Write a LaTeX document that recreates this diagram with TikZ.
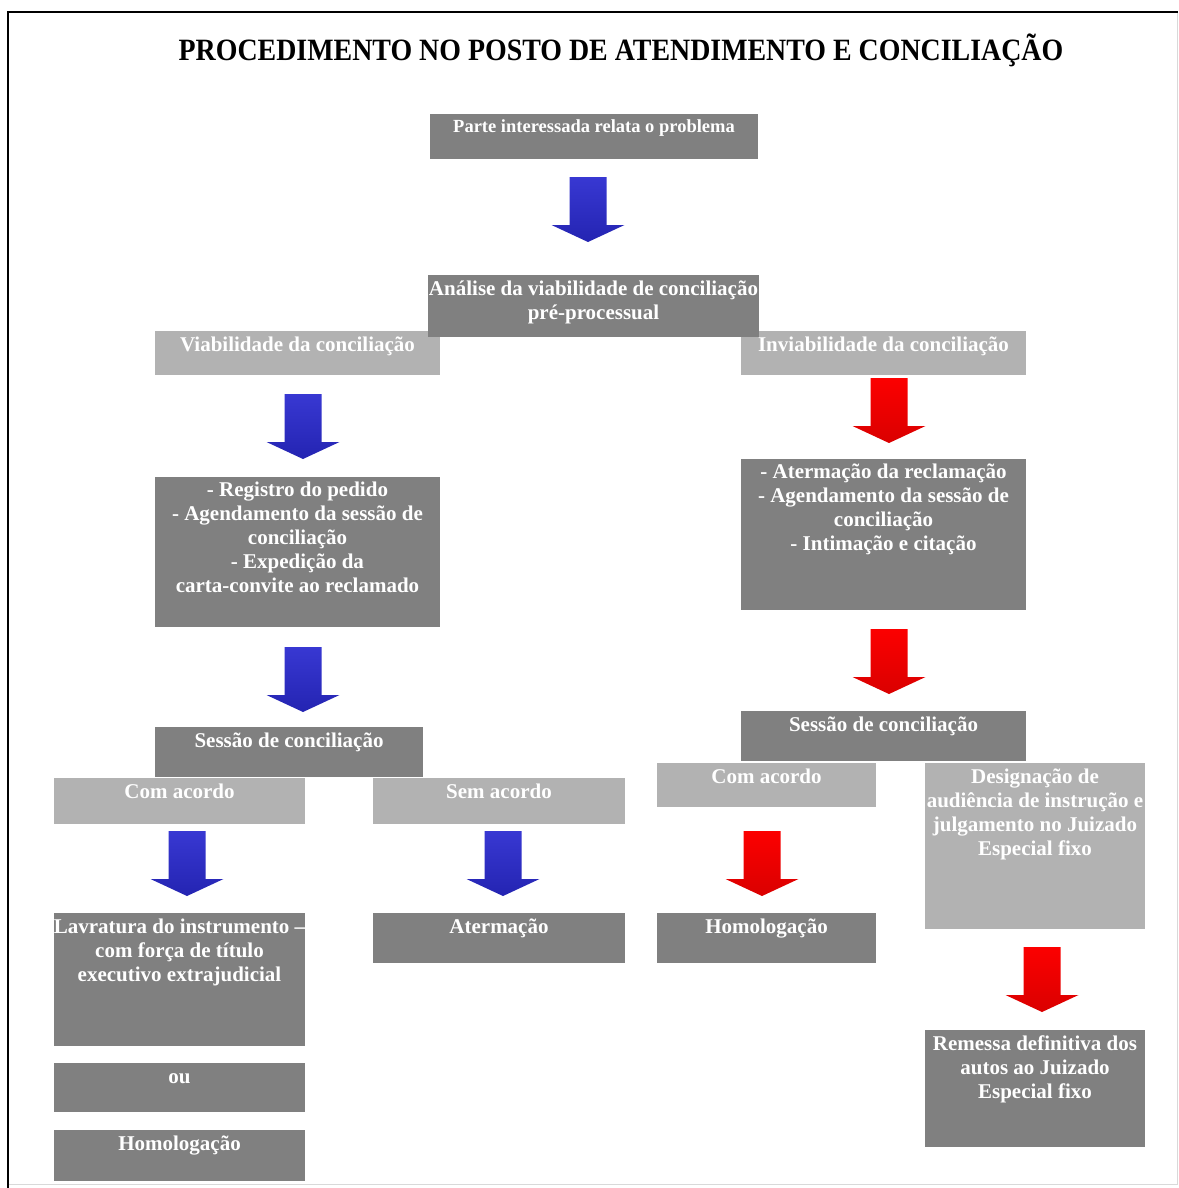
\documentclass[tikz,border=0pt]{standalone}
\usepackage{fontspec}
\setmainfont{Liberation Serif}

\definecolor{dgray}{RGB}{128,128,128}
\definecolor{lgray}{RGB}{178,178,178}
\definecolor{ablue}{RGB}{56,56,210}
\definecolor{ablueD}{RGB}{36,36,178}
\definecolor{ared}{RGB}{252,0,0}
\definecolor{aredD}{RGB}{218,0,0}

\tikzset{
  box/.style={inner sep=0pt, outer sep=0pt, anchor=north west},
  dbox/.style={box, fill=dgray},
  lbox/.style={box, fill=lgray},
  btext/.style={text=white, font=\bfseries\fontsize{21}{24}\selectfont, align=center, inner sep=0pt, anchor=north},
  barrow/.style={top color=ablue, bottom color=ablueD},
  rarrow/.style={top color=ared, bottom color=aredD},
  titletext/.style={anchor=base, inner sep=0pt, font=\bfseries\fontsize{31}{36}\selectfont},
}
\newcommand\st{\rule{0pt}{15pt}}
% #1 text options, #2 name, #3 style, #4 x, #5 y, #6 w, #7 h, #8 text
\newcommand\mybox[8][]{%
  \node[#3, minimum width=#6pt, minimum height=#7pt] (#2) at (#4,#5) {};
  \node[btext, #1] (#2t) at ([yshift=-5pt]#2.north) {\st #8};
}
% x, ytop, style
\newcommand\blockarr[3]{%
  \path[#3] (#1-18.5,#2) -- (#1+18.5,#2) -- (#1+18.5,#2+48) -- (#1+36.5,#2+48)
    -- (#1,#2+65) -- (#1-36.5,#2+48) -- (#1-18.5,#2+48) -- cycle;
}

\begin{document}
\begin{tikzpicture}[x=1pt, y=-1pt]
\useasboundingbox (0,0) rectangle (1178,1188);
\fill[white] (0,0) rectangle (1178,1188);

% frame
\draw[black!15, line width=1pt] (8,1184) -- (1177,1184) -- (1177,12.5);
\draw[black, line width=2pt] (8,1188) -- (8,12.5) -- (1178,12.5);

% title
\node[titletext] (title) at (621,61) {\scalebox{0.9}[1]{PROCEDIMENTO NO POSTO DE ATENDIMENTO E CONCILIAÇÃO}};

% boxes
\mybox[yshift=2pt, font=\bfseries\fontsize{18.5}{22}\selectfont]{p1}{dbox}{430}{114}{328}{45}{Parte interessada relata o problema}
\mybox{vi}{lbox}{155}{331}{285}{44}{Viabilidade da conciliação}
\mybox{inv}{lbox}{741}{331}{285}{44}{Inviabilidade da conciliação}
\mybox{an}{dbox}{428}{275}{331}{62}{Análise da viabilidade de conciliação\\pré-processual}

\mybox[yshift=1pt]{r1}{dbox}{155}{477}{285}{150}{- Registro do pedido\\- Agendamento da sessão de\\conciliação\\- Expedição da\\carta-convite ao reclamado}
\mybox[yshift=1pt]{r2}{dbox}{741}{459}{285}{151}{- Atermação da reclamação\\- Agendamento da sessão de\\conciliação\\- Intimação e citação}

\mybox{s1}{dbox}{155}{727}{268}{50}{Sessão de conciliação}
\mybox{s2}{dbox}{741}{711}{285}{50}{Sessão de conciliação}

\mybox{c1}{lbox}{54}{778}{251}{46}{Com acordo}
\mybox{sa}{lbox}{373}{778}{252}{46}{Sem acordo}
\mybox{c2}{lbox}{657}{763}{219}{44}{Com acordo}
\mybox{de}{lbox}{925}{763}{220}{166}{Designação de\\audiência de instrução e\\julgamento no Juizado\\Especial fixo}

\mybox{la}{dbox}{54}{913}{251}{133}{Lavratura do instrumento –\\com força de título\\executivo extrajudicial}
\mybox{ou}{dbox}{54}{1063}{251}{49}{ou}
\mybox{h1}{dbox}{54}{1130}{251}{51}{Homologação}
\mybox{at}{dbox}{373}{913}{252}{50}{Atermação}
\mybox{h2}{dbox}{657}{913}{219}{50}{Homologação}
\mybox{re}{dbox}{925}{1030}{220}{117}{Remessa definitiva dos\\autos ao Juizado\\Especial fixo}

% block arrows
\blockarr{588}{177}{barrow}
\blockarr{303}{394}{barrow}
\blockarr{889}{378}{rarrow}
\blockarr{303}{647}{barrow}
\blockarr{889}{629}{rarrow}
\blockarr{187}{831}{barrow}
\blockarr{503}{831}{barrow}
\blockarr{762}{831}{rarrow}
\blockarr{1042}{947}{rarrow}
\end{tikzpicture}
\end{document}
